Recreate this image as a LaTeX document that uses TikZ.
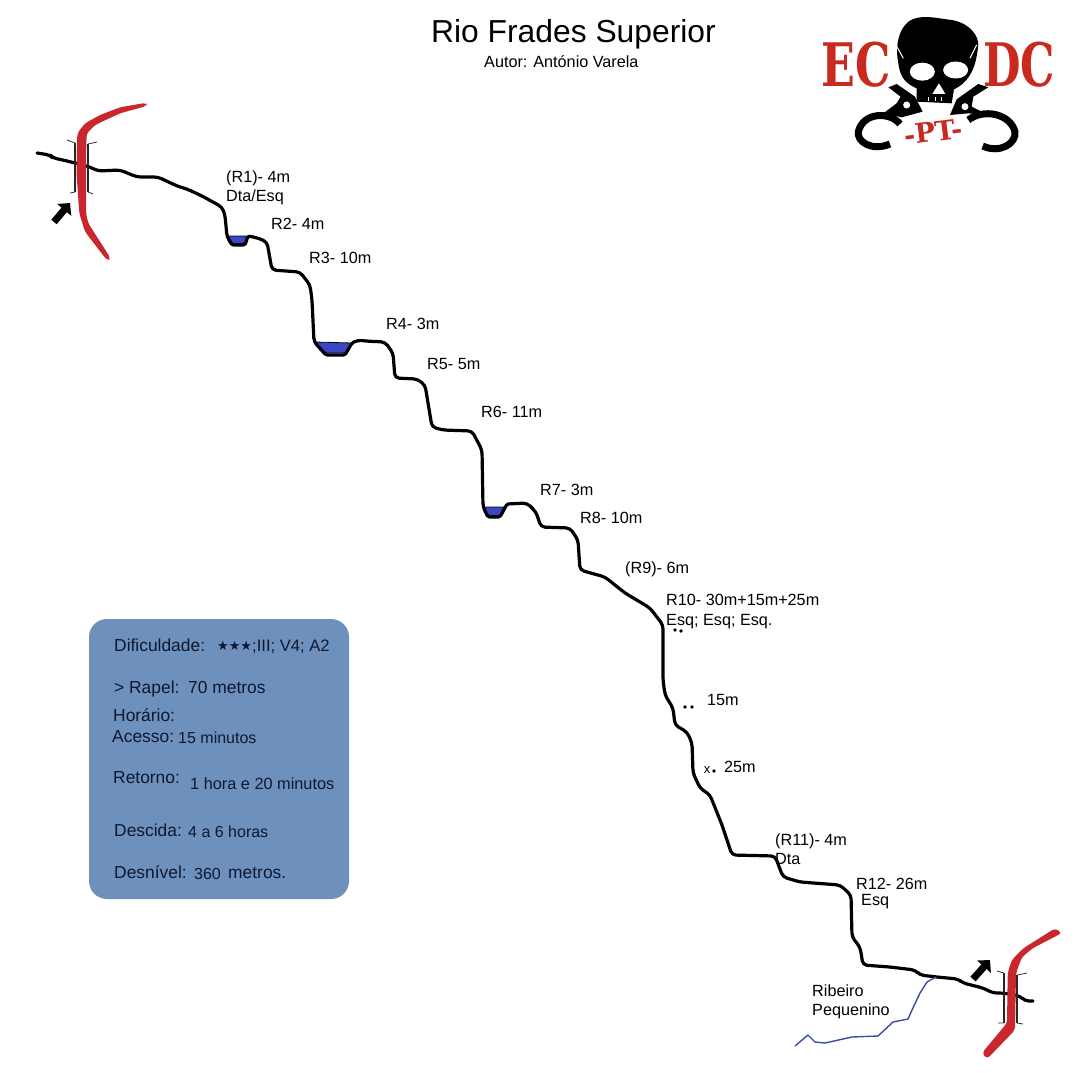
\documentclass[tikz,border=0pt]{standalone}
\usepackage{fontspec}
\usepackage{xcolor}
\setmainfont{Liberation Sans}
\newfontfamily\slabfont{DejaVu Serif}
\newfontfamily\symbolfont{DejaVu Sans}
\usetikzlibrary{arrows.meta}
\definecolor{roadred}{HTML}{C9272D}
\definecolor{logored}{HTML}{C92A1F}
\definecolor{poolblue}{HTML}{3A46C4}
\definecolor{brookblue}{HTML}{3A4BA8}
\definecolor{panelblue}{HTML}{6E90BC}
\definecolor{paneltext}{HTML}{0E1830}

\begin{document}
\begin{tikzpicture}[
  x=1pt, y=-1pt,
  lbl/.style={anchor=base west, inner sep=0pt, text=black, font=\fontsize{16.2}{18}\selectfont},
  key/.style={anchor=base west, inner sep=0pt, text=paneltext, font=\fontsize{17.4}{20}\selectfont},
  val/.style={anchor=base west, inner sep=0pt, text=paneltext, font=\fontsize{16}{18}\selectfont},
  river/.style={line width=3.2pt, line join=round, line cap=round},
  road/.style={fill=roadred, rounded corners=3.5pt},
  bridgerail/.style={line width=1.8pt, black!85},
  bridgeend/.style={line width=0.8pt, black!80},
  pool/.style={fill=poolblue, draw=black, line width=0.8pt},
  pointer/.style={line width=7pt, -{Triangle[length=9pt,width=18pt]}},
  dotmark/.style={circle, fill=black, inner sep=0pt, minimum size=3.8pt},
  logotext/.style={inner sep=0pt, text=logored}
]
  \useasboundingbox (0,0) rectangle (1081,1072);

  % panel
  \fill[panelblue, rounded corners=18pt] (89,619) rectangle (349,899);

  % pools
  \filldraw[pool] (228,236) -- (248,236) -- (245,243) -- (233,244) -- cycle;
  \filldraw[pool] (315,342) -- (352,343) -- (345,353) -- (326,353) -- cycle;
  \filldraw[pool] (483,507) -- (504,507) -- (500,516) -- (488,515) -- cycle;

  % main river
  \draw[river] [rounded corners=4pt] (37,153) -- (50,155) -- (53,158) -- (63,160) -- (75,163) -- (90,167) -- (98,171)
    -- (120,170) -- (137,177) -- (158,177) -- (177,186) -- (187,189) -- (202,196) -- (222,207)
    -- (225,215) -- (227,237) [rounded corners=1.5pt] -- (232,245) -- (245,245) -- (248,236) [rounded corners=4pt] -- (258,238) -- (267,242)
    -- (272,270) -- (300,272) -- (310,285) -- (312,300) -- (314,342) [rounded corners=1.5pt] -- (326,355) -- (345,355)
    -- (352,343) [rounded corners=4pt] -- (358,340) -- (365,341) -- (385,342) -- (393,353) -- (395,378) -- (417,379)
    -- (425,385) -- (432,427) -- (443,430) -- (472,431) -- (482,450) -- (483,507) [rounded corners=1.5pt] -- (488,517)
    -- (500,517) -- (507,504) [rounded corners=4pt] -- (527,503) -- (536,512) -- (541,527) -- (570,528) -- (578,540)
    -- (580,570) -- (605,577) -- (625,593) -- (650,608) -- (663,625) -- (663,680) -- (665,695)
    -- (673,708) -- (675,725) -- (687,732) -- (692,743) -- (693,773) -- (700,788) -- (710,795)
    -- (722,825) -- (732,855) -- (775,856) -- (783,877) -- (800,882) -- (840,885) -- (851,895)
    -- (852,937) -- (860,947) -- (863,965) -- (890,967) -- (915,970) -- (920,975) -- (937,977)
    -- (958,979) -- (963,983) -- (983,988) -- (993,993) -- (1003,993) -- (1020,996) -- (1025,1001)
    -- (1033,1001);

  % brook
  \draw[brookblue, line width=1.4pt, line join=round] (936,977) -- (927,982) -- (920,993)
    -- (912,1010) -- (908,1019) -- (893,1022) -- (878,1036) -- (852,1037) -- (825,1043)
    -- (815,1042) -- (808,1035) -- (795,1046);

  % roads
  \fill[road] (146.7,102.7) -- (120,107.3) -- (100,115) -- (85,123.3) -- (77.3,133.3) -- (76.5,173)
    -- (79.3,213.3) -- (85,231.7) -- (107.3,260.7) -- (110.7,258.3) -- (88.3,223.3) -- (86,213.3)
    -- (86,156.7) -- (86.7,133.3) -- (95,125) -- (120,113.3) -- (146.7,106) -- cycle;
  \fill[road] (1055,928.3) -- (1023.3,948.3) -- (1011.7,960) -- (1007.7,973) -- (1007,1023)
    -- (982,1053) -- (987,1059) -- (1015,1030) -- (1016,973) -- (1022,957) -- (1033,948)
    -- (1062,933) -- cycle;

  % bridges
  \draw[bridgerail] (75,143) -- (75,192);
  \draw[bridgerail] (88,144) -- (88,192);
  \draw[bridgeend] (67,140) -- (75,143) (75,192) -- (70,193);
  \draw[bridgeend] (97,142) -- (88,144) (88,192) -- (93,194);
  \draw[bridgerail] (1004,973) -- (1004,1023);
  \draw[bridgerail] (1017,975) -- (1017,1023);
  \draw[bridgeend] (997,971) -- (1004,973) (1004,1023) -- (998,1023);
  \draw[bridgeend] (1027,973) -- (1017,975) (1017,1023) -- (1023,1024);

  % arrows
  \draw[pointer] (54,222) -- (70,203);
  \draw[pointer] (973,979) -- (990,960);

  % rappel marks
  \node[dotmark] (m1a) at (675,630) {};
  \node[dotmark] (m1b) at (681,631) {};
  \node[dotmark] (m2a) at (685,707) {};
  \node[dotmark] (m2b) at (692,707) {};
  \node[inner sep=0pt, font=\fontsize{13}{13}\selectfont] (m3a) at (707,770) {x};
  \node[dotmark] (m3b) at (714,771) {};

  % title
  \node[lbl, font=\fontsize{31.8}{34}\selectfont] (title) at (431,42) {Rio Frades Superior};
  \node[lbl] (author) at (484,67) {Autor: António Varela};

  % rappel labels
  \node[lbl] (r1) at (226,182) {(R1)- 4m};
  \node[lbl] (r1side) at (226,201) {Dta/Esq};
  \node[lbl] (r2) at (271,229) {R2- 4m};
  \node[lbl] (r3) at (309,263) {R3- 10m};
  \node[lbl] (r4) at (386,329) {R4- 3m};
  \node[lbl] (r5) at (427,369) {R5- 5m};
  \node[lbl] (r6) at (481,417) {R6- 11m};
  \node[lbl] (r7) at (540,495) {R7- 3m};
  \node[lbl] (r8) at (580,523) {R8- 10m};
  \node[lbl] (r9) at (625,573) {(R9)- 6m};
  \node[lbl] (r10) at (666,605) {R10- 30m+15m+25m};
  \node[lbl] (r10side) at (666,625) {Esq; Esq; Esq.};
  \node[lbl] (r10b) at (707,705) {15m};
  \node[lbl] (r10c) at (724,772) {25m};
  \node[lbl] (r11) at (775,845) {(R11)- 4m};
  \node[lbl] (r11side) at (775,864) {Dta};
  \node[lbl] (r12) at (856,889) {R12- 26m};
  \node[lbl] (r12side) at (861,905) {Esq};
  \node[lbl] (ribeiro) at (812,996) {Ribeiro};
  \node[lbl] (pequenino) at (812,1015) {Pequenino};

  % panel text
  \node[key] (dif) at (114,651) {Dificuldade:};
  \node[anchor=base west, inner sep=0pt, text=paneltext, font=\symbolfont\fontsize{13}{13}\selectfont] (stars) at (217,650) {★★★};
  \node[key, font=\fontsize{16.6}{18}\selectfont] (difval) at (252,651) {;III; V4; A2};
  \node[key] (rapel) at (114,693) {> Rapel:};
  \node[key] (rapelval) at (188,693) {70 metros};
  \node[key] (horario) at (113,721) {Horário:};
  \node[key] (acesso) at (112,742) {Acesso:};
  \node[val] (acessoval) at (178,743) {15 minutos};
  \node[key] (retorno) at (113,783) {Retorno:};
  \node[val, font=\fontsize{16.3}{18}\selectfont] (retornoval) at (190,789) {1 hora e 20 minutos};
  \node[key] (descida) at (114,836) {Descida:};
  \node[val] (descidaval) at (188,837) {4 a 6 horas};
  \node[key] (desnivel) at (114,878) {Desnível:};
  \node[val] (desnivelval) at (194,879) {360};
  \node[key] (metros) at (228,878) {metros.};

  % logo
  \begin{scope}[shift={(800,0)}, x=0.3333pt, y=-0.3333pt]
    % carabiners
    \draw[line width=7pt] (300,372) .. controls (270,335) and (190,335) .. (175,395)
      .. controls (170,425) and (215,455) .. (270,432);
    \draw[line width=7pt] (505,360) .. controls (550,325) and (630,340) .. (645,395)
      .. controls (650,430) and (600,462) .. (548,438);
    \fill (265,262) -- (290,252) -- (345,290) -- (368,335) -- (305,352) -- (250,340) -- (290,310) -- (302,290) -- cycle;
    \fill (565,262) -- (535,252) -- (470,298) -- (450,345) -- (505,340) -- (565,345) -- (515,320) -- (520,290) -- cycle;
    \fill[white] (320,315) circle (3.5pt);
    \fill[white] (495,320) circle (3.5pt);
    % skull
    \fill (455,60) .. controls (410,55) and (360,40) .. (325,65) .. controls (295,90) and (285,140) .. (295,190)
      .. controls (300,230) and (315,250) .. (350,265) -- (350,305) -- (455,310) -- (462,268)
      .. controls (510,245) and (530,200) .. (535,130) .. controls (530,90) and (490,65) .. (455,60) -- cycle;
    \fill[white] (367,215) ellipse (12.5pt and 9pt);
    \fill[white] (467,210) ellipse (12.5pt and 8.5pt);
    \fill[white] (417,250) -- (397,282) -- (436,282) -- cycle;
    \draw[white, line width=1pt] (285,130) -- (310,175);
    \draw[white, line width=1pt] (530,135) -- (510,175);
    \foreach \toothx in {385,405,425}
      \draw[white, line width=0.7pt] (\toothx,292) -- (\toothx,303);
  \end{scope}
  \node[logotext, font=\slabfont\bfseries\fontsize{60}{60}\selectfont, xscale=0.74] (ec) at (856,65) {EC};
  \node[logotext, font=\slabfont\bfseries\fontsize{60}{60}\selectfont, xscale=0.72] (dc) at (1019,65) {DC};
  \node[logotext, font=\slabfont\bfseries\fontsize{27}{27}\selectfont, rotate=7] (pt) at (933,132) {-PT-};
\end{tikzpicture}
\end{document}
